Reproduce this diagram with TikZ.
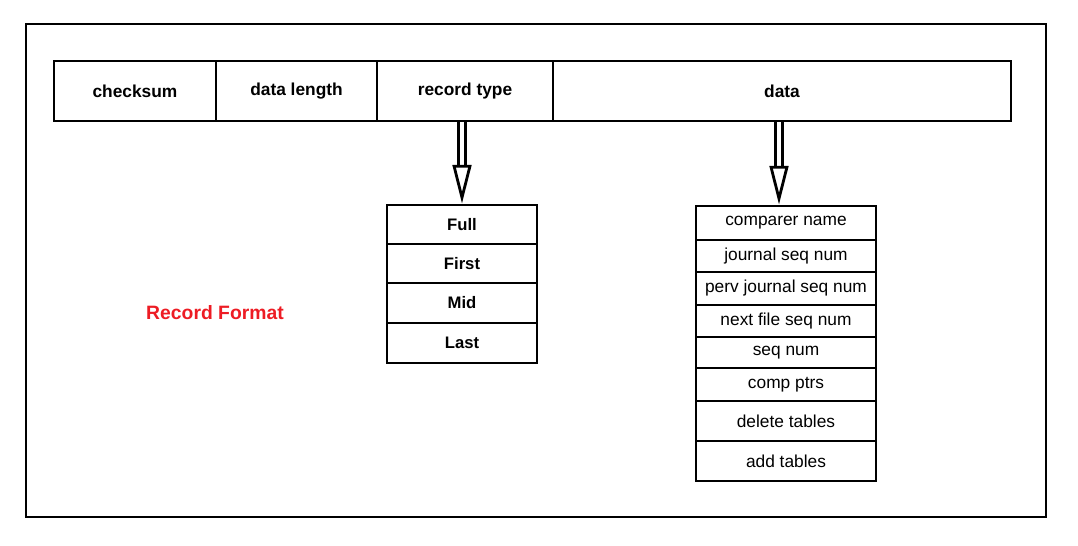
\documentclass[tikz,border=0pt]{standalone}
\usepackage{fontspec}
\setmainfont{Liberation Sans}
\usepackage{xcolor}
\usepackage{tikz}
\usetikzlibrary{arrows.meta,positioning}

\definecolor{fmtred}{HTML}{ED1C24}

\begin{document}
\begin{tikzpicture}[
    x=0.75pt, y=-0.75pt,
    every node/.style={font=\fontsize{13}{15}\selectfont},
    cell/.style={draw=black, line width=2.2pt, inner sep=0pt, anchor=center},
    head/.style={cell, font=\fontsize{13}{15}\selectfont\bfseries,
      minimum height=45pt},
    flow/.style={line width=2.1pt, double distance=3pt,
      -{Triangle[open, length=29pt, width=14pt, line width=2.1pt]}}
  ]
    \useasboundingbox (0,0) rectangle (1078,546);
    \draw[line width=2.2pt] (26,24) rectangle (1046,517);

    % record header
    \node[head, minimum width=121.5pt] (chk) at (135,91) {checksum};
    \node[head, minimum width=120.75pt] (dlen) at (296.5,91) {data length};
    \node[head, minimum width=132pt] (rtype) at (465,91) {record type};
    \node[head, minimum width=343.5pt] (data) at (782,91) {data};

    % record types
    \foreach \y/\h/\txt [count=\i] in {224.5/29.25/Full, 263.5/29.25/First,
        303/30/Mid, 343/30/Last}
      \node[cell, font=\fontsize{12.5}{14}\selectfont\bfseries,
        minimum width=112.5pt, minimum height=\h pt] (t\i) at (462,\y) {\txt};

    % data fields
    \foreach \y/\h/\txt [count=\i] in {223/25.5/comparer name,
        256/24/journal seq num, 288.5/24.75/perv journal seq num,
        321/24/next file seq num, 352.5/23.25/seq num,
        384.5/24.75/comp ptrs, 421/30/delete tables, 461/30/add tables}
      \node[cell, minimum width=135pt, minimum height=\h pt] (d\i) at (786,\y) {\txt};

    \draw[flow] (t1.north |- rtype.south) -- (t1.north);
    \draw[flow] ([xshift=-5.25pt]d1.north |- data.south) -- ([xshift=-5.25pt]d1.north);

    \node[font=\fontsize{14.5}{17}\selectfont\bfseries, text=fmtred] (fmt) at (215,313) {Record Format};
  \end{tikzpicture}
\end{document}
